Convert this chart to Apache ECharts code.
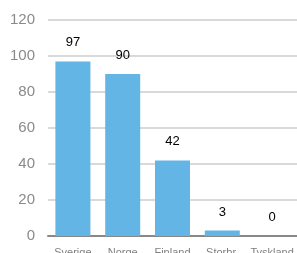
<!DOCTYPE html>
<html>
<head>
<meta charset="utf-8">
<script src="https://cdn.jsdelivr.net/npm/echarts@6/dist/echarts.min.js"></script>
<style>
  html, body { margin: 0; padding: 0; background: #fff; }
  #chart { width: 297px; height: 253px; }
</style>
</head>
<body>
<div id="chart"></div>
<script>
// data
const countries = ['Sverige', 'Norge', 'Finland', 'Storbr.', 'Tyskland']
const values = [97, 90, 42, 3, 0]
const yTicks = [0, 20, 40, 60, 80, 100, 120]

const myChart = echarts.init(document.getElementById('chart'))
const option = {
  animation: false,
  grid: {
    left: 48,
    right: 0,
    top: 20,
    bottom: 17,
    outerBoundsMode: 'none'
  },
  xAxis: {
    type: 'category',
    data: countries,
    axisTick: { show: false },
    axisLine: { lineStyle: { color: '#888', width: 2 } },
    axisLabel: {
      color: '#7f7f7f',
      fontSize: 11,
      fontFamily: 'Liberation Sans, Arial, sans-serif',
      margin: 11,
      interval: 0
    }
  },
  yAxis: {
    type: 'value',
    min: yTicks[0],
    max: yTicks[yTicks.length - 1],
    interval: 20,
    axisLine: { show: false },
    axisTick: { show: false },
    splitLine: { lineStyle: { color: '#cccccc', width: 1.5 } },
    axisLabel: {
      color: '#8a8a8a',
      fontSize: 15,
      fontFamily: 'Liberation Sans, Arial, sans-serif',
      margin: 13
    }
  },
  series: [
    {
      type: 'bar',
      data: values,
      barWidth: 35,
      itemStyle: { color: '#62b5e5' },
      label: {
        show: true,
        position: 'top',
        distance: 12,
        color: '#000',
        fontSize: 13,
        fontFamily: 'Liberation Sans, Arial, sans-serif'
      }
    }
  ]
}
myChart.setOption(option)
</script>
</body>
</html>
